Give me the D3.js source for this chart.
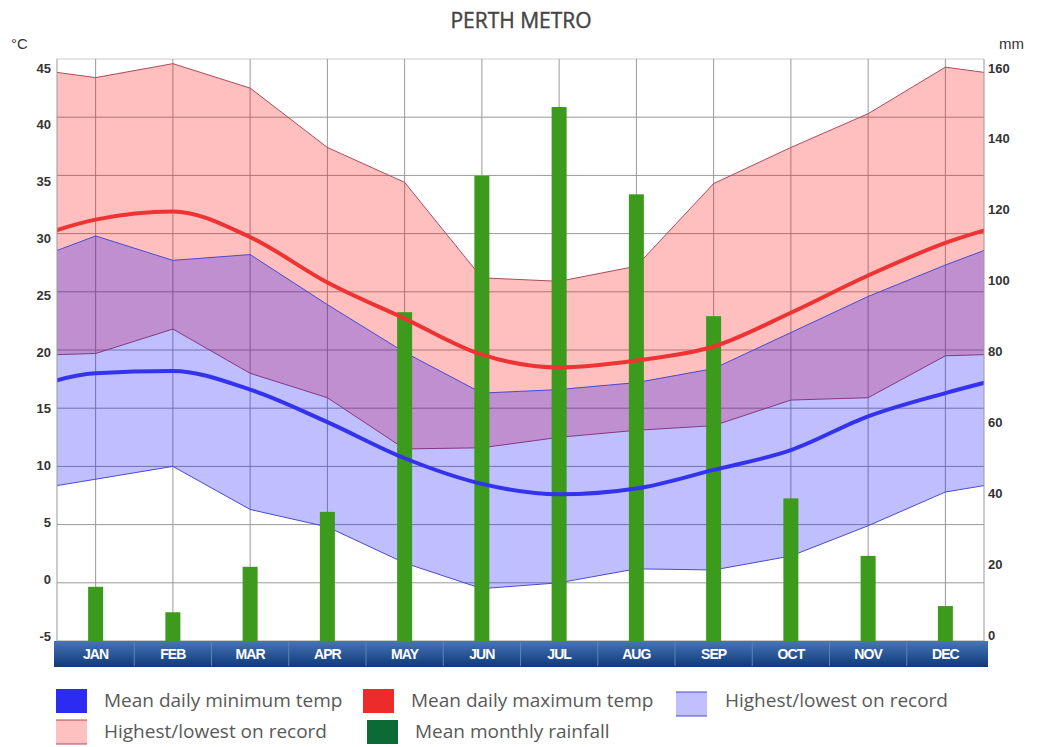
<!DOCTYPE html>
<html>
<head>
<meta charset="utf-8">
<script src="https://cdn.jsdelivr.net/npm/d3@7"></script>
<style>
  body { margin: 0; background: #fff; }
  svg { display: block; }
  .tick-l, .tick-r { font-family: "Liberation Sans", Arial, sans-serif; font-weight: bold; font-size: 13px; fill: #333; }
  .month { font-family: "Liberation Sans", Arial, sans-serif; font-weight: bold; font-size: 14px; fill: #fff; letter-spacing: -0.9px; }
  .legend text { font-family: "Open Sans", sans-serif; font-size: 19px; fill: #595959; }
</style>
</head>
<body>
<script>

// data
var months = ["JAN","FEB","MAR","APR","MAY","JUN","JUL","AUG","SEP","OCT","NOV","DEC"];
var meanMax = [31.2, 31.9, 29.7, 25.8, 22.7, 19.6, 18.5, 19.1, 20.3, 23.2, 26.4, 29.2];
var meanMin = [18.0, 18.2, 16.6, 13.8, 10.7, 8.5, 7.6, 8.1, 9.7, 11.4, 14.3, 16.3];
var recordHighMax = [43.4, 44.6, 42.5, 37.4, 34.4, 26.2, 25.9, 27.2, 34.3, 37.4, 40.3, 44.3];
var recordLowMax = [19.7, 21.8, 18.0, 15.9, 11.5, 11.6, 12.5, 13.1, 13.5, 15.7, 15.9, 19.5];
var recordHighMin = [29.8, 27.7, 28.2, 23.9, 19.8, 16.3, 16.6, 17.2, 18.4, 21.5, 24.6, 27.3];
var recordLowMin = [8.9, 10.0, 6.3, 4.8, 1.7, -0.5, 0.0, 1.2, 1.1, 2.3, 4.9, 7.8];
var rainfall = [14.9, 7.9, 20.4, 35.5, 90.4, 127.9, 146.8, 122.8, 89.3, 39.2, 23.4, 9.6];

var tempTicks = [45, 40, 35, 30, 25, 20, 15, 10, 5, 0, -5];
var rainTicks = [160, 140, 120, 100, 80, 60, 40, 20, 0];

var W = 1039, H = 747;
var pLeft = 57, pRight = 984, pTop = 59, pBottom = 641;

var svg = d3.select("body").append("svg")
    .attr("width", W)
    .attr("height", H);

var x = d3.scaleBand().domain(months).range([pLeft, pRight]).padding(0);
var step = x.step();
var y = d3.scaleLinear().domain([-5, 45]).range([pBottom, pTop]);
var yRain = d3.scaleLinear().domain([0, 160]).range([pBottom, pTop]);
// the tick labels sit on a slightly tighter span than the grid
var yTempLabel = d3.scaleLinear().domain([-5, 45]).range([636, 68]);
var yRainLabel = d3.scaleLinear().domain([0, 160]).range([635, 68]);

// month centre, i can be -1 or 12 so the curves wrap past the edges
function cx(i) { return x(months[0]) + step / 2 + i * step; }

function wrap(arr) {
    var out = [{i: -1, v: arr[11]}];
    arr.forEach(function(v, i) { out.push({i: i, v: v}); });
    out.push({i: 12, v: arr[0]});
    return out;
}
function wrapPair(hi, lo) {
    var out = [{i: -1, hi: hi[11], lo: lo[11]}];
    hi.forEach(function(v, i) { out.push({i: i, hi: v, lo: lo[i]}); });
    out.push({i: 12, hi: hi[0], lo: lo[0]});
    return out;
}

svg.append("text")
    .attr("x", 521).attr("y", 28)
    .attr("text-anchor", "middle")
    .style("font-family", "'Open Sans', sans-serif")
    .style("font-size", "21px")
    .style("fill", "#444")
    .style("stroke", "#444")
    .style("stroke-width", "0.4px")
    .text("PERTH METRO");

var defs = svg.append("defs");
defs.append("clipPath").attr("id", "plot")
    .append("rect").attr("x", pLeft).attr("y", pTop)
    .attr("width", pRight - pLeft).attr("height", pBottom - pTop);

// grid
var grid = svg.append("g");
grid.selectAll("line.h")
    .data(tempTicks)
    .enter().append("line")
    .attr("x1", pLeft).attr("x2", pRight)
    .attr("y1", function(d) { return y(d); })
    .attr("y2", function(d) { return y(d); })
    .attr("stroke", function(d) { return d == 45 ? "#ccc" : "#999"; })
    .attr("stroke-width", 1);
grid.selectAll("line.v")
    .data(months)
    .enter().append("line")
    .attr("x1", function(d) { return x(d) + step / 2; })
    .attr("x2", function(d) { return x(d) + step / 2; })
    .attr("y1", pTop).attr("y2", pBottom)
    .attr("stroke", "#999")
    .attr("stroke-width", 1);

var plot = svg.append("g").attr("clip-path", "url(#plot)");

var area = d3.area()
    .x(function(d) { return cx(d.i); })
    .y0(function(d) { return y(d.lo); })
    .y1(function(d) { return y(d.hi); });
var edgeHi = d3.line().x(function(d) { return cx(d.i); }).y(function(d) { return y(d.hi); });
var edgeLo = d3.line().x(function(d) { return cx(d.i); }).y(function(d) { return y(d.lo); });

var maxBand = wrapPair(recordHighMax, recordLowMax);
var minBand = wrapPair(recordHighMin, recordLowMin);

plot.append("path").datum(maxBand).attr("d", area).attr("fill", "rgba(255,0,0,0.25)");
plot.append("path").datum(maxBand).attr("d", edgeHi).attr("fill", "none").attr("stroke", "#b04a5a").attr("stroke-width", 1);
plot.append("path").datum(maxBand).attr("d", edgeLo).attr("fill", "none").attr("stroke", "#b04a5a").attr("stroke-width", 1);

plot.append("path").datum(minBand).attr("d", area).attr("fill", "rgba(0,0,255,0.25)");
plot.append("path").datum(minBand).attr("d", edgeHi).attr("fill", "none").attr("stroke", "#4a4ad0").attr("stroke-width", 1);
plot.append("path").datum(minBand).attr("d", edgeLo).attr("fill", "none").attr("stroke", "#4a4ad0").attr("stroke-width", 1);

// rainfall bars
plot.selectAll("rect.bar")
    .data(rainfall)
    .enter().append("rect")
    .attr("x", function(d, i) { return cx(i) - 7.5; })
    .attr("width", 15)
    .attr("y", function(d) { return yRain(d); })
    .attr("height", function(d) { return pBottom - yRain(d); })
    .attr("fill", "#3c9a1c");

var line = d3.line()
    .x(function(d) { return cx(d.i); })
    .y(function(d) { return y(d.v); })
    .curve(d3.curveMonotoneX);

plot.append("path").datum(wrap(meanMax)).attr("d", line)
    .attr("fill", "none").attr("stroke", "#ee3333").attr("stroke-width", 4);
plot.append("path").datum(wrap(meanMin)).attr("d", line)
    .attr("fill", "none").attr("stroke", "#3333ee").attr("stroke-width", 4);

// axes
svg.append("line").attr("x1", pLeft).attr("x2", pLeft).attr("y1", pTop).attr("y2", pBottom).attr("stroke", "#999");
svg.append("line").attr("x1", pRight).attr("x2", pRight).attr("y1", pTop).attr("y2", pBottom).attr("stroke", "#999");

svg.selectAll("text.tick-l")
    .data(tempTicks)
    .enter().append("text")
    .attr("class", "tick-l")
    .attr("x", 51)
    .attr("y", function(d) { return yTempLabel(d); })
    .attr("dy", "0.35em")
    .attr("text-anchor", "end")
    .text(function(d) { return d; });

svg.selectAll("text.tick-r")
    .data(rainTicks)
    .enter().append("text")
    .attr("class", "tick-r")
    .attr("x", 988)
    .attr("y", function(d) { return yRainLabel(d); })
    .attr("dy", "0.35em")
    .text(function(d) { return d; });

svg.append("text").attr("class", "tick-l").style("font-weight", "normal").style("font-size", "15px")
    .attr("x", 11).attr("y", 49).text("°C");
svg.append("text").attr("class", "tick-l").style("font-weight", "normal").style("font-size", "15px")
    .attr("x", 999).attr("y", 49).text("mm");

// month band
var grad = defs.append("linearGradient")
    .attr("id", "band").attr("x1", 0).attr("x2", 0).attr("y1", 0).attr("y2", 1);
grad.append("stop").attr("offset", "0%").attr("stop-color", "#4775b5");
grad.append("stop").attr("offset", "100%").attr("stop-color", "#0f3a7a");

svg.append("rect")
    .attr("x", 54).attr("y", pBottom)
    .attr("width", 934).attr("height", 26)
    .attr("fill", "url(#band)");
svg.selectAll("line.sep")
    .data(months.slice(1))
    .enter().append("line")
    .attr("x1", function(d) { return x(d); })
    .attr("x2", function(d) { return x(d); })
    .attr("y1", pBottom + 1).attr("y2", pBottom + 25)
    .attr("stroke", "#5d82b8").attr("stroke-width", 1);
svg.selectAll("text.month")
    .data(months)
    .enter().append("text")
    .attr("class", "month")
    .attr("x", function(d) { return x(d) + step / 2; })
    .attr("y", pBottom + 18)
    .attr("text-anchor", "middle")
    .text(function(d) { return d; });

// legend
var legendItems = [
    {label: "Mean daily minimum temp", fill: "#2b2bf2", x: 56, y: 689, ty: 707, tx: 104, edge: null},
    {label: "Mean daily maximum temp", fill: "#ee2b2b", x: 363, y: 689, ty: 707, tx: 411, edge: null},
    {label: "Highest/lowest on record", fill: "#c0c0ff", x: 676, y: 692, ty: 707, tx: 725, edge: "#4a4ad0"},
    {label: "Highest/lowest on record", fill: "#ffc0c0", x: 56, y: 720, ty: 738, tx: 104, edge: "#b04a5a"},
    {label: "Mean monthly rainfall", fill: "#0b6a35", x: 367, y: 720, ty: 738, tx: 415, edge: null}
];
var legend = svg.append("g").attr("class", "legend");
legendItems.forEach(function(d) {
    legend.append("rect").attr("x", d.x).attr("y", d.y).attr("width", 31).attr("height", 24).attr("fill", d.fill);
    if (d.edge) {
        legend.append("line").attr("x1", d.x).attr("x2", d.x + 31).attr("y1", d.y + 24).attr("y2", d.y + 24).attr("stroke", d.edge);
        legend.append("line").attr("x1", d.x).attr("x2", d.x + 31).attr("y1", d.y).attr("y2", d.y).attr("stroke", d.edge);
    }
    legend.append("text").attr("x", d.tx).attr("y", d.ty).text(d.label);
});

</script>
</body>
</html>
